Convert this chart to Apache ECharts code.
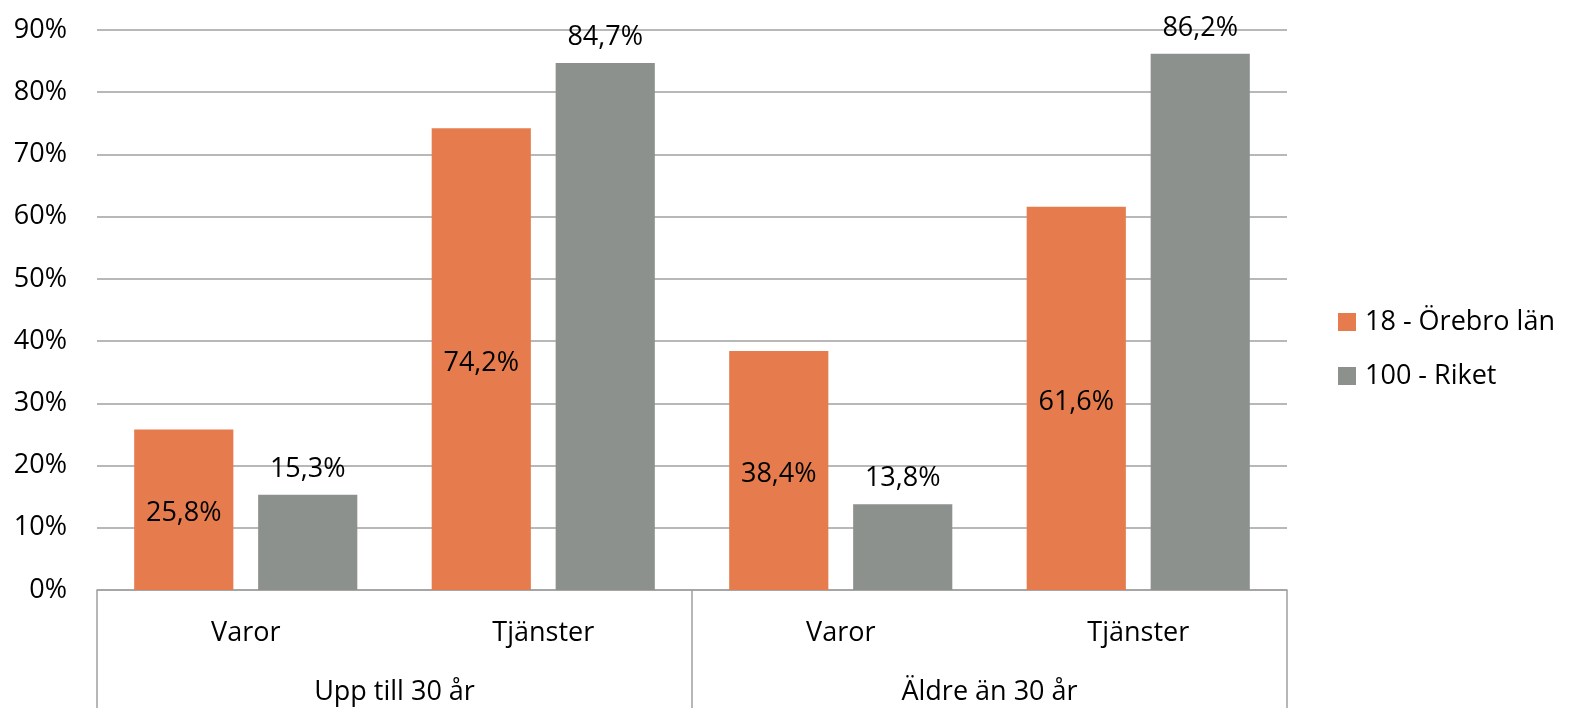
<!DOCTYPE html>
<html>
<head>
<meta charset="utf-8">
<script src="https://cdn.jsdelivr.net/npm/echarts@6/dist/echarts.min.js"></script>
<style>
  html, body { margin: 0; padding: 0; background: #fff; }
  #chart { width: 1571px; height: 708px; }
</style>
</head>
<body>
<div id="chart"></div>
<script>
const categories = ['Varor', 'Tjänster', 'Varor', 'Tjänster']
const groups = ['Upp till 30 år', 'Äldre än 30 år']
const orebro = [25.8, 74.2, 38.4, 61.6]
const riket = [15.3, 84.7, 13.8, 86.2]

const font = '"Open Sans", "Noto Sans", sans-serif'
const fmt = p => p.value.toFixed(1).replace('.', ',') + '%'

const chart = echarts.init(document.getElementById('chart'))

chart.setOption({
  animation: false,
  textStyle: { fontFamily: font },
  grid: {
    left: 97,
    right: 284,
    top: 30,
    bottom: 118
  },
  legend: {
    orient: 'vertical',
    left: 1333,
    top: 302,
    itemWidth: 18,
    itemHeight: 18,
    itemGap: 24,
    icon: 'rect',
    textStyle: { fontSize: 27, color: '#000', lineHeight: 30, padding: [0, 0, 0, 4] },
    data: ['18 - Örebro län', '100 - Riket']
  },
  xAxis: [{
    type: 'category',
    data: categories,
    axisLine: { lineStyle: { color: '#a0a0a0', width: 1.5 } },
    axisTick: { show: false },
    axisLabel: { fontSize: 27, color: '#000', margin: 30, lineHeight: 27 }
  }, {
    type: 'category',
    position: 'bottom',
    data: groups,
    axisLine: { show: false },
    axisTick: { show: true, length: 120, lineStyle: { color: '#a0a0a0', width: 1.5 } },
    axisLabel: { fontSize: 27, color: '#000', margin: 89, lineHeight: 27 }
  }],
  yAxis: {
    type: 'value',
    min: 0,
    max: 90,
    interval: 10,
    axisLine: { show: false },
    axisTick: { show: false },
    axisLabel: { formatter: '{value}%', fontSize: 27, color: '#000', margin: 30 },
    splitLine: { lineStyle: { color: '#a0a0a0', width: 1.5 } }
  },
  series: [{
    name: '18 - Örebro län',
    type: 'bar',
    data: orebro,
    barGap: '25%',
    barCategoryGap: '25%',
    itemStyle: { color: '#e67c4e' },
    label: { show: true, position: 'inside', offset: [0, 4], formatter: fmt, fontSize: 27, color: '#000' }
  }, {
    name: '100 - Riket',
    type: 'bar',
    data: riket,
    itemStyle: { color: '#8c918e' },
    label: { show: true, position: 'top', distance: 12, formatter: fmt, fontSize: 27, color: '#000' }
  }]
})
</script>
</body>
</html>
